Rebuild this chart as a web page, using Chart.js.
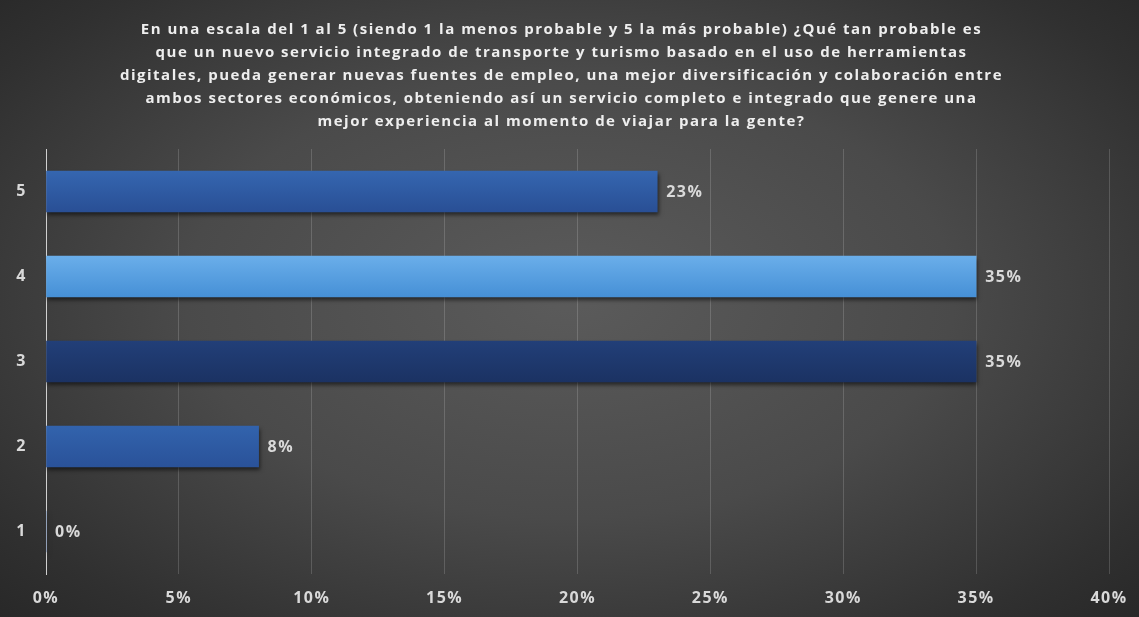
<!DOCTYPE html>
<html>
<head>
<meta charset="utf-8">
<script src="https://cdn.jsdelivr.net/npm/chart.js@4.4.1/dist/chart.umd.min.js"></script>
<style>
  html, body { margin: 0; padding: 0; }
  body {
    width: 1139px; height: 617px; overflow: hidden;
    background: radial-gradient(ellipse 75% 80% at 50% 48%, #5b5b5b 0%, #4a4a4a 45%, #303030 80%, #242424 100%);
  }
  #wrap { position: relative; width: 1139px; height: 617px; }
</style>
</head>
<body>
<div id="wrap"><canvas id="encuesta"></canvas></div>
<script>
// ---- data ----
const categorias = ['5', '4', '3', '2', '1'];
const porcentajes = [23, 35, 35, 8, 0];
const ticksX = [0, 5, 10, 15, 20, 25, 30, 35, 40];

const titulo = [
  'En una escala del 1 al 5 (siendo 1 la menos probable y 5 la más probable) ¿Qué tan probable es',
  'que un nuevo servicio integrado de transporte y turismo basado en el uso de herramientas',
  'digitales, pueda generar nuevas fuentes de empleo, una mejor diversificación y colaboración entre',
  'ambos sectores económicos, obteniendo así un servicio completo e integrado que genere una',
  'mejor experiencia al momento de viajar para la gente?',
];

// gradient stops per bar (top, bottom)
const coloresBarra = [
  ['#3566b0', '#294f95'],
  ['#6aaeea', '#4690d6'],
  ['#223f78', '#1b3263'],
  ['#3263ad', '#2a5299'],
  ['#3263ad', '#2a5299'],
];

const TEXTO = '#d9d9d9';
const FUENTE = "'Open Sans', 'DejaVu Sans', sans-serif";
const GROSOR = 41;
const ESPACIADO = '1.5px';

Chart.defaults.font.family = FUENTE;
Chart.defaults.color = TEXTO;

// wider letter spacing for every text on the canvas
const espaciado = {
  id: 'espaciado',
  beforeUpdate(chart) { chart.ctx.letterSpacing = ESPACIADO; },
  beforeLayout(chart) { chart.ctx.letterSpacing = ESPACIADO; },
  beforeDraw(chart) { chart.ctx.letterSpacing = ESPACIADO; },
};

// drop shadow under the bars
const sombraBarras = {
  id: 'sombraBarras',
  beforeDatasetsDraw(chart) {
    const ctx = chart.ctx;
    ctx.save();
    ctx.shadowColor = 'rgba(0,0,0,0.55)';
    ctx.shadowBlur = 4;
    ctx.shadowOffsetX = 1;
    ctx.shadowOffsetY = 3;
  },
  afterDatasetsDraw(chart) {
    chart.ctx.restore();
  },
};

// value labels at the end of each bar
const etiquetasValor = {
  id: 'etiquetasValor',
  afterDatasetsDraw(chart) {
    const ctx = chart.ctx;
    const meta = chart.getDatasetMeta(0);
    ctx.save();
    ctx.letterSpacing = ESPACIADO;
    ctx.font = `bold 16px ${FUENTE}`;
    ctx.fillStyle = TEXTO;
    ctx.textAlign = 'left';
    ctx.textBaseline = 'middle';
    meta.data.forEach((bar, i) => {
      ctx.fillText(porcentajes[i] + '%', bar.x + 9, bar.y + 1);
    });
    ctx.restore();
  },
};

function rellenoBarra(c) {
  const chart = c.chart;
  const [arriba, abajo] = coloresBarra[c.dataIndex] || coloresBarra[0];
  const y = chart.scales.y;
  const cy = y ? y.getPixelForValue(c.dataIndex) : NaN;
  if (!isFinite(cy)) return abajo;
  const g = chart.ctx.createLinearGradient(0, cy - GROSOR / 2, 0, cy + GROSOR / 2);
  g.addColorStop(0, arriba);
  g.addColorStop(1, abajo);
  return g;
}

new Chart(document.getElementById('encuesta'), {
  type: 'bar',
  data: {
    labels: categorias,
    datasets: [{
      data: porcentajes,
      backgroundColor: rellenoBarra,
      borderWidth: 0,
      barThickness: GROSOR,
    }],
  },
  plugins: [espaciado, sombraBarras, etiquetasValor],
  options: {
    indexAxis: 'y',
    responsive: true,
    maintainAspectRatio: false,
    animation: false,
    layout: { padding: { left: 14, right: 30, top: 0, bottom: 0 } },
    plugins: {
      legend: { display: false },
      tooltip: { enabled: false },
      title: {
        display: true,
        text: titulo,
        color: '#eeeeee',
        font: { size: 15, weight: 'bold', lineHeight: 23 / 15 },
        padding: { top: 18, bottom: 16 },
      },
    },
    scales: {
      x: {
        min: 0,
        max: 40,
        afterBuildTicks(axis) { axis.ticks = ticksX.map(v => ({ value: v })); },
        grid: { color: 'rgba(255,255,255,0.16)', drawTicks: false, lineWidth: 1 },
        border: { display: false },
        ticks: {
          padding: 15,
          font: { size: 16, weight: 'bold' },
          color: TEXTO,
          callback: v => v + '%',
        },
        afterFit(axis) {
          axis.height = 43;
          axis.paddingLeft = 0;
          axis.paddingRight = 0;
        },
      },
      y: {
        grid: { display: false, drawTicks: false },
        border: { display: true, color: '#d0d0d0', width: 1 },
        ticks: {
          padding: 19,
          font: { size: 16, weight: 'bold' },
          color: TEXTO,
        },
        afterFit(axis) { axis.width = 32; },
      },
    },
  },
});
</script>
</body>
</html>
